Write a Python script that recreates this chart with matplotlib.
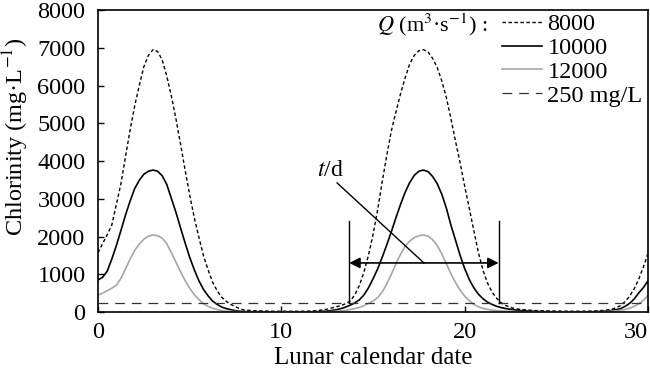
import matplotlib
matplotlib.use('Agg')
import matplotlib.pyplot as plt

plt.rcParams['font.family'] = ['Liberation Serif', 'DejaVu Serif']
plt.rcParams['mathtext.fontset'] = 'stix'
plt.rcParams['lines.scale_dashes'] = False

# lunar calendar date (days)
tage = [0, 0.25, 0.5, 0.75, 1.0, 1.25, 1.5, 1.75, 2.0, 2.25, 2.5, 2.75, 3.0, 3.25,
        3.5, 3.75, 4.0, 4.25, 4.5, 4.75, 5.0, 5.25, 5.5, 5.75, 6.0, 6.25, 6.5,
        6.75, 7.0, 7.25, 7.5, 7.75, 8.0,
        8.5, 9, 9.5, 10, 10.5, 11, 11.5, 12, 12.5, 13,
        13.25, 13.5, 13.75, 14.0, 14.25, 14.5, 14.75, 15.0, 15.25, 15.5, 15.75,
        16.0, 16.25, 16.5, 16.75, 17.0, 17.25, 17.5, 17.75, 18.0, 18.25, 18.5,
        18.75, 19.0, 19.25, 19.5, 19.75, 20.0, 20.25, 20.5, 20.75, 21.0, 21.25,
        21.5, 21.75, 22.0, 22.25, 22.5, 22.75, 23.0,
        23.5, 24, 24.5, 25, 25.5, 26, 26.5, 27, 27.5, 28,
        28.25, 28.5, 28.75, 29.0, 29.25, 29.5, 29.75, 30.0]

# chlorinity (mg/L) for Q = 8000, 10000, 12000 m3/s
q8000 = [1570, 1810, 2050, 2300, 2850, 3400, 4120, 4820, 5460, 6000, 6500, 6800,
         6950, 6900, 6680, 6250, 5720, 5120, 4450, 3760, 3100, 2500, 1980, 1500,
         1120, 790, 560, 390, 280, 200, 140, 80, 50,
         35, 28, 22, 20, 20, 20, 25, 40, 75, 140,
         170, 220, 290, 450, 700, 1050, 1500, 2050, 2700, 3450, 4150, 4800, 5300,
         5780, 6200, 6570, 6800, 6920, 6950, 6890, 6720, 6480, 6120, 5680, 5120,
         4520, 3950, 3330, 2750, 2150, 1570, 1100, 760, 520, 360, 240, 170, 120,
         90, 70,
         50, 35, 30, 25, 22, 20, 22, 25, 40, 70,
         110, 170, 280, 420, 620, 880, 1200, 1560]
q10000 = [850, 920, 1080, 1400, 1760, 2160, 2570, 2940, 3270, 3490, 3650, 3730,
          3760, 3730, 3610, 3380, 3010, 2640, 2230, 1830, 1450, 1120, 830, 600,
          430, 290, 200, 130, 90, 60, 35, 20, 12,
          8, 5, 5, 5, 5, 5, 5, 10, 25, 60,
          90, 130, 180, 240, 320, 450, 640, 880, 1140, 1450, 1780, 2130, 2500,
          2850, 3170, 3430, 3620, 3730, 3760, 3720, 3590, 3400, 3120, 2750, 2300,
          1900, 1500, 1150, 860, 640, 470, 350, 260, 200, 150, 115, 90, 70, 55, 40,
          25, 12, 8, 5, 5, 5, 5, 8, 15, 40,
          60, 90, 150, 230, 350, 510, 650, 830]
q12000 = [450, 500, 565, 630, 710, 890, 1140, 1400, 1630, 1800, 1930, 2010, 2040,
          2020, 1960, 1810, 1570, 1320, 1070, 830, 630, 460, 330, 220, 150, 100,
          65, 40, 22, 15, 10, 6, 5,
          3, 3, 3, 3, 3, 3, 3, 3, 8, 20,
          30, 45, 65, 90, 120, 165, 225, 290, 380, 530, 750, 1000, 1280, 1530,
          1740, 1880, 1970, 2020, 2040, 2010, 1920, 1760, 1540, 1280, 1010, 780,
          580, 420, 300, 200, 140, 95, 70, 50, 38, 28, 20, 15, 12, 10,
          6, 3, 3, 3, 3, 3, 3, 3, 8, 20,
          30, 45, 65, 100, 150, 220, 310, 440]
grenzwert = 250

# t/d: duration above 250 mg/L (Q = 8000)
t_start, t_ende = 13.7, 21.85

fig = plt.figure(figsize=(6.5, 3.71), dpi=100)
ax = fig.add_axes([0.1508, 0.159, 0.8462, 0.814])

ax.plot(tage, q8000, color='black', lw=1.0, ls=(0, (2.5, 1.8)), label='8000')
ax.plot(tage, q10000, color='black', lw=1.2, label='10000')
ax.plot(tage, q12000, color='#a6a6a6', lw=1.2, label='12000')
ax.axhline(grenzwert, color='#333333', lw=0.9, ls=(0, (7, 5)), label='250 mg/L')

# annotation t/d
ax.plot([t_start, t_start], [250, 2400], color='black', lw=1.0)
ax.plot([t_ende, t_ende], [250, 2400], color='black', lw=1.0)
ax.annotate('', xy=(t_start, 1300), xytext=(t_ende, 1300),
            arrowprops=dict(arrowstyle='<|-|>', color='black', lw=1.2,
                            mutation_scale=16, shrinkA=0, shrinkB=0))
ax.plot([13.04, (t_start + t_ende) / 2], [3420, 1300], color='black', lw=1.0)
ax.text(11.95, 3760, '$t$/d', fontsize=17, ha='left', va='center')

ax.set_xlim(0, 30)
ax.set_ylim(0, 8000)
ax.set_xticks([0, 10, 20, 30])
ax.set_yticks(range(0, 8001, 1000))
ax.tick_params(direction='in', length=4, width=1, labelsize=17.5)
ax.tick_params(axis='x', pad=7)
ax.tick_params(axis='y', pad=9)
for s in ax.spines.values():
    s.set_linewidth(1.2)
ax.get_xticklabels()[-1].set_horizontalalignment('right')

ax.set_xlabel('Lunar calendar date', fontsize=18, labelpad=3)
ax.set_ylabel('Chlorinity (mg·L$^{-1}$)', fontsize=17.5)
ax.yaxis.set_label_coords(-0.122, 0.58)

ax.legend(loc='upper left', frameon=False, fontsize=17.5, handlelength=1.65,
          handletextpad=0.22, labelspacing=0.08, borderpad=0, borderaxespad=0,
          bbox_to_anchor=(0.7345, 0.99))
ax.text(0.508, 0.952, '$Q$ (m$^3$·s$^{-1}$) :', transform=ax.transAxes,
        fontsize=16, ha='left', va='center')

fig.savefig('out.png', dpi=100)
